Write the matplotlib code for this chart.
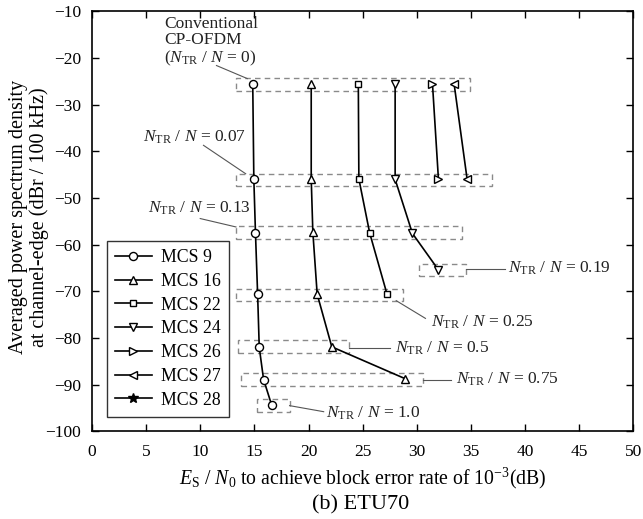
import matplotlib
matplotlib.use("Agg")
import matplotlib.pyplot as plt
from matplotlib.patches import Rectangle

plt.rcParams['font.family'] = ['Liberation Serif', 'DejaVu Serif']
plt.rcParams['mathtext.fontset'] = 'custom'
plt.rcParams['mathtext.rm'] = 'Liberation Serif'
plt.rcParams['mathtext.it'] = 'Liberation Serif:italic'
plt.rcParams['mathtext.bf'] = 'Liberation Serif:bold'

# ---- data ----
mcs_labels = ['MCS 9', 'MCS 16', 'MCS 22', 'MCS 24', 'MCS 26', 'MCS 27', 'MCS 28']
mcs_markers = ['o', '^', 's', 'v', '>', '<', '*']
mcs9_x = [14.85, 14.95, 15.1, 15.3, 15.45, 15.85, 16.6]
mcs9_y = [-25.6, -45.9, -57.4, -70.6, -82.0, -88.9, -94.4]
mcs16_x = [20.25, 20.25, 20.4, 20.8, 22.15, 28.9]
mcs16_y = [-25.5, -45.9, -57.3, -70.6, -81.9, -88.7]
mcs22_x = [24.6, 24.65, 25.65, 27.25]
mcs22_y = [-25.6, -45.9, -57.5, -70.6]
mcs24_x = [28.0, 28.0, 29.6, 32.0]
mcs24_y = [-25.6, -46.0, -57.6, -65.4]
mcs26_x = [31.45, 32.0]
mcs26_y = [-25.6, -46.0]
mcs27_x = [33.45, 34.65]
mcs27_y = [-25.6, -46.0]
mcs28_x = []
mcs28_y = []
series_x = [mcs9_x, mcs16_x, mcs22_x, mcs24_x, mcs26_x, mcs27_x, mcs28_x]
series_y = [mcs9_y, mcs16_y, mcs22_y, mcs24_y, mcs26_y, mcs27_y, mcs28_y]

# dashed group boxes: (x0, x1, y_top, y_bottom)
boxes = [
    (13.3, 34.95, -24.3, -27.0),
    (13.3, 36.9, -44.8, -47.4),
    (13.3, 34.2, -56.1, -58.7),
    (30.2, 34.5, -64.1, -66.7),
    (13.3, 28.75, -69.4, -72.1),
    (13.5, 23.7, -80.5, -83.2),
    (13.75, 30.6, -87.5, -90.3),
    (15.2, 18.25, -93.1, -95.9),
]
ratio_labels = ['0.07', '0.13', '0.19', '0.25', '0.5', '0.75', '1.0']
# text anchor (left x, center y) and leader line (x0,y0,x1,y1)
ratio_text_pos = [(4.75, -36.9), (5.2, -52.3), (38.4, -65.1), (31.35, -76.6),
                  (28.0, -82.2), (33.65, -88.9), (21.6, -96.2)]
ratio_lines = [(10.3, -38.7, 14.2, -44.8), (10.0, -54.4, 13.3, -56.2),
               (34.5, -65.2, 38.1, -65.2), (28.1, -72.0, 30.8, -75.8),
               (23.7, -82.2, 27.5, -82.2), (30.6, -88.95, 33.2, -88.95),
               (18.25, -94.5, 21.4, -95.8)]

xticks = list(range(0, 51, 5))
yticks = list(range(-100, -9, 10))

fig = plt.figure(figsize=(6.43, 5.19), dpi=100)
ax = fig.add_axes([0.143, 0.169, 0.842, 0.809])

fs = 12.5
for xs, ys, lab, mk in zip(series_x, series_y, mcs_labels, mcs_markers):
    ms = 4.5 if mk == 's' else (7 if mk == '*' else 5.8)
    ax.plot(xs, ys, color='black', lw=1.2, marker=mk, ms=ms,
            mfc='white', mec='black', mew=1.0, label=lab)
leg = ax.legend(loc='lower left', bbox_to_anchor=(0.027, 0.035), fontsize=12.8,
                frameon=True, fancybox=False, edgecolor='black',
                handlelength=2.1, handletextpad=0.5, borderpad=0.45,
                labelspacing=0.38, borderaxespad=0)
leg.get_frame().set_linewidth(1.0)
for h in leg.legend_handles:
    if h.get_marker() == '*':
        h.set_markerfacecolor('black')

gray = '#8a8a8a'
for x0, x1, yt, yb in boxes:
    ax.add_patch(Rectangle((x0, yb), x1 - x0, yt - yb, fill=False,
                           edgecolor=gray, lw=1.0, ls=(0, (4, 3))))

for (tx, ty), (lx0, ly0, lx1, ly1), r in zip(ratio_text_pos, ratio_lines, ratio_labels):
    ax.plot([lx0, lx1], [ly0, ly1], color='#555555', lw=0.8)
    ax.text(tx, ty, r'$N_{\mathrm{TR}}$ / $N$ = ' + r, fontsize=fs,
            ha='left', va='center', color='#222222')

ax.text(6.7, -12.6, 'Conventional', fontsize=fs, ha='left', va='center', color='#222222')
ax.text(6.7, -16.2, 'CP-OFDM', fontsize=fs, ha='left', va='center', color='#222222')
ax.text(6.7, -20.1, r'($N_{\mathrm{TR}}$ / $N$ = 0)', fontsize=fs, ha='left', va='center', color='#222222')
ax.plot([11.5, 14.35], [-21.6, -24.4], color='#555555', lw=0.8)

ax.set_xlim(0, 50)
ax.set_ylim(-100, -10)
ax.set_xticks(xticks)
ax.set_yticks(yticks)
ax.tick_params(direction='in', top=True, right=True, length=5, width=1.0,
               labelsize=fs)
ax.tick_params(axis='x', pad=9)
ax.tick_params(axis='y', pad=8)
for s in ax.spines.values():
    s.set_linewidth(1.2)

ax.set_xlabel(r'$E_{\mathrm{S}}$ / $N_0$ to achieve block error rate of $10^{-3}$(dB)',
              fontsize=14.2, va='center')
ax.xaxis.set_label_coords(0.5, -0.112)
ax.set_ylabel('Averaged power spectrum density\nat channel-edge (dBr / 100 kHz)',
              fontsize=14.5, linespacing=1.1, va='center')
ax.yaxis.set_label_coords(-0.117, 0.51)
fig.text(0.561, 0.027, '(b) ETU70', fontsize=16, ha='center', va='center')

fig.savefig('out.png', dpi=100)
